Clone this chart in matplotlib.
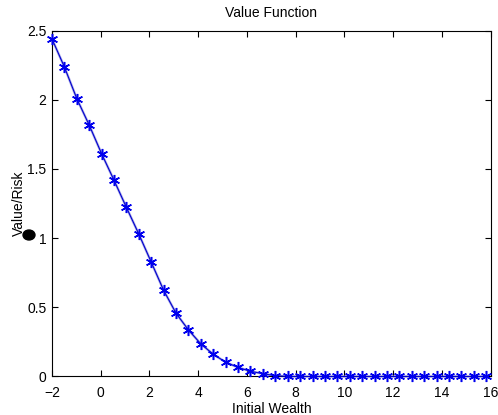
import matplotlib
matplotlib.use("Agg")
import matplotlib.pyplot as plt
import numpy as np

plt.rcParams['font.family'] = ['Liberation Sans', 'DejaVu Sans']

x_vals = [-2.00, -1.49, -0.98, -0.47, 0.04, 0.54, 1.05, 1.56, 2.07, 2.58,
          3.09, 3.60, 4.11, 4.62, 5.13, 5.64, 6.14, 6.65, 7.16, 7.67,
          8.18, 8.69, 9.20, 9.71, 10.22, 10.73, 11.24, 11.74, 12.25, 12.76,
          13.27, 13.78, 14.29, 14.80, 15.31, 15.82]
y_vals = [2.439, 2.236, 2.007, 1.815, 1.608, 1.420, 1.223, 1.030, 0.827, 0.623,
          0.457, 0.336, 0.235, 0.160, 0.103, 0.065, 0.038, 0.020, 0.006, 0.0,
          0.0, 0.0, 0.0, 0.0, 0.0, 0.0, 0.0, 0.0, 0.0, 0.0,
          0.0, 0.0, 0.0, 0.0, 0.0, 0.0]
x_ticks = [-2, 0, 2, 4, 6, 8, 10, 12, 14, 16]
y_ticks = [0, 0.5, 1, 1.5, 2, 2.5]
y_tick_labels = ['0', '0.5', '1', '1.5', '2', '2.5']

fig = plt.figure(figsize=(4.98, 4.15), dpi=100)
ax = fig.add_axes([0.1044, 0.0928, 0.8809, 0.8337])
ax.plot(x_vals, y_vals, color='#8c8ce0', lw=1.8, alpha=0.7, zorder=2, clip_on=False)
ax.plot(x_vals, y_vals, color='#0000cc', lw=0.8, marker=(6, 2, 0), markersize=8,
        markeredgewidth=1.1, markeredgecolor='#0000ee', zorder=3, clip_on=False)
ax.set_xlim(-2, 16)
ax.set_ylim(0, 2.5)
ax.set_xticks(x_ticks)
ax.set_yticks(y_ticks)
ax.set_yticklabels(y_tick_labels)
ax.tick_params(direction='in', top=True, right=True, labelsize=10, length=4)
ax.tick_params(axis='x', pad=7)
ax.tick_params(axis='y', pad=4)
for s in ax.spines.values():
    s.set_linewidth(0.8)
ax.set_title('Value Function', fontsize=10, pad=10)
ax.set_xlabel('Initial Wealth', fontsize=10, labelpad=1)
ax.set_ylabel('Value/Risk', fontsize=10, labelpad=1)
fig.patches.append(matplotlib.patches.Circle((29 / 498, 1 - 235 / 415), 0.012,
                                             transform=fig.transFigure, color='black'))
fig.savefig('out.png', dpi=100)
